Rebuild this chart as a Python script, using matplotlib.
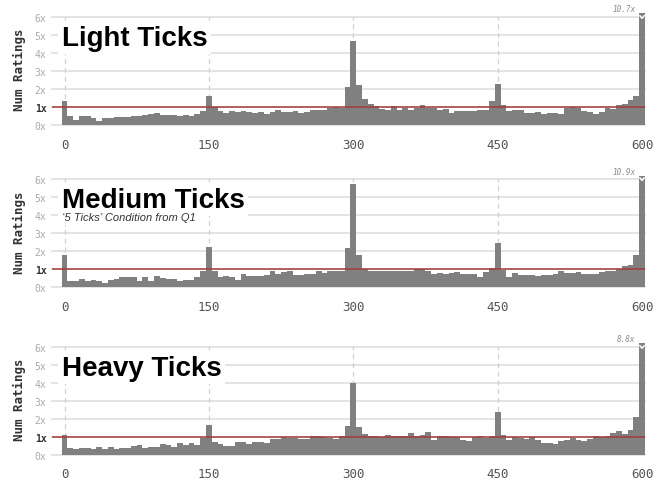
import numpy as np
import matplotlib.pyplot as plt

# bins are 6 seconds wide, centred on 0, 6, ..., 600
bins = np.arange(0, 601, 6)

light = [1.35, 0.48, 0.30, 0.52, 0.52, 0.37, 0.25, 0.41, 0.41, 0.44,
         0.44, 0.44, 0.52, 0.48, 0.56, 0.61, 0.67, 0.56, 0.56, 0.56,
         0.52, 0.56, 0.52, 0.59, 0.78, 1.62, 0.98, 0.78, 0.67, 0.78,
         0.72, 0.78, 0.72, 0.67, 0.72, 0.61, 0.72, 0.83, 0.72, 0.72,
         0.78, 0.67, 0.72, 0.83, 0.83, 0.83, 0.94, 1.00, 0.94, 2.11,
         4.67, 2.22, 1.44, 1.17, 1.04, 0.89, 0.83, 1.06, 0.83, 0.94,
         0.83, 0.94, 1.11, 0.94, 0.94, 0.83, 0.89, 0.67, 0.78, 0.78,
         0.78, 0.78, 0.83, 0.83, 1.33, 2.28, 1.11, 0.78, 0.83, 0.83,
         0.67, 0.67, 0.72, 0.61, 0.67, 0.67, 0.61, 0.94, 1.00, 0.94,
         0.78, 0.72, 0.61, 0.72, 0.94, 0.89, 1.11, 1.17, 1.39, 1.61,
         10.7]

medium = [1.78, 0.36, 0.36, 0.47, 0.36, 0.41, 0.36, 0.24, 0.41, 0.47,
          0.54, 0.54, 0.58, 0.36, 0.54, 0.36, 0.60, 0.50, 0.43, 0.47,
          0.36, 0.41, 0.41, 0.54, 0.88, 2.22, 0.88, 0.54, 0.60, 0.54,
          0.41, 0.71, 0.60, 0.60, 0.60, 0.65, 0.88, 0.75, 0.82, 0.92,
          0.65, 0.65, 0.75, 0.75, 0.88, 0.79, 0.92, 0.92, 0.92, 2.15,
          5.74, 1.76, 1.03, 0.92, 0.92, 0.92, 0.92, 0.92, 0.88, 0.92,
          0.88, 1.03, 1.03, 0.92, 0.75, 0.80, 0.75, 0.80, 0.86, 0.75,
          0.75, 0.75, 0.58, 0.86, 1.08, 2.43, 0.93, 0.58, 0.80, 0.69,
          0.69, 0.69, 0.64, 0.69, 0.69, 0.75, 0.92, 0.80, 0.80, 0.86,
          0.75, 0.75, 0.75, 0.86, 0.92, 0.92, 1.03, 1.20, 1.25, 1.76,
          10.9]

heavy = [1.12, 0.37, 0.32, 0.37, 0.37, 0.32, 0.43, 0.32, 0.43, 0.32,
         0.37, 0.37, 0.48, 0.56, 0.37, 0.43, 0.43, 0.60, 0.56, 0.43,
         0.65, 0.56, 0.65, 0.56, 0.97, 1.68, 0.71, 0.60, 0.48, 0.48,
         0.71, 0.71, 0.60, 0.71, 0.71, 0.65, 0.88, 0.88, 0.99, 0.93,
         0.93, 0.88, 0.88, 1.04, 1.04, 0.99, 0.93, 0.88, 1.04, 1.60,
         4.00, 1.55, 1.15, 1.04, 1.04, 0.99, 1.10, 1.04, 1.04, 1.04,
         1.21, 1.04, 1.10, 1.26, 0.82, 1.04, 1.04, 0.99, 0.99, 0.82,
         0.76, 0.99, 1.04, 0.93, 1.04, 2.38, 1.12, 0.82, 0.99, 0.93,
         0.88, 0.99, 0.82, 0.65, 0.65, 0.60, 0.76, 0.82, 0.93, 0.82,
         0.76, 0.88, 1.04, 0.99, 1.04, 1.21, 1.32, 1.15, 1.38, 2.10,
         8.8]

series = [light, medium, heavy]
titles = ["Light Ticks", "Medium Ticks", "Heavy Ticks"]
subtitles = ["", "\u20185 Ticks\u2019 Condition from Q1", ""]
xticks = [0, 150, 300, 450, 600]
yticks = [0, 1, 2, 3, 4, 5, 6]
ytick_labels = ["0x", "1x", "2x", "3x", "4x", "5x", "6x"]

YTOP = 6.2
mono = "DejaVu Sans Mono"
sans = "Liberation Sans"

fig = plt.figure(figsize=(6.64, 4.81), dpi=100)
bottoms = [0.738, 0.401, 0.052]

for vals, title, sub, bot in zip(series, titles, subtitles, bottoms):
    ax = fig.add_axes([52 / 664, bot, 0.893, 0.232])
    ax.set_xlim(-13, 603)
    ax.set_ylim(0, YTOP)

    # grid
    for yv in yticks:
        ax.axhline(yv, color="#e2e2e2", lw=1.3, zorder=0, clip_on=False)
    for xv in xticks[:-1]:
        ax.plot([xv, xv], [0, 6], color="#d0d0d0", lw=0.9, ls=(0, (4, 3)), zorder=0)

    ax.bar(bins, vals, width=6, color="#808080", linewidth=0, zorder=2)
    ax.axhline(1, color="#a8393a", lw=1.1, zorder=3)

    # overflow marker on the last bin
    last = vals[-1]
    if last > YTOP:
        ax.plot([597.3, 600, 602.7], [6.1, 5.93, 6.1], color="white", lw=1.1,
                zorder=4, solid_capstyle="butt")
        ax.text(593, 6.45, "%.1fx" % last, ha="right", va="center",
                fontsize=5.5, family=mono, style="italic", color="#8a8a8a",
                clip_on=False)

    ax.text(-3, 4.45, title, fontsize=20, fontweight="bold", family=sans,
            ha="left", va="baseline", zorder=5,
            bbox=dict(boxstyle="square,pad=0.12", fc="white", ec="none"))
    if sub:
        ax.text(-3, 3.9, sub, fontsize=8, style="italic", family=sans,
                color="#333333", ha="left", va="center", zorder=6,
                bbox=dict(boxstyle="square,pad=0.25", fc="white", ec="none"))

    for s in ax.spines.values():
        s.set_visible(False)

    ax.set_xticks(xticks)
    ax.set_xticklabels([str(x) for x in xticks], family=mono, fontsize=9,
                       color="#555555")
    ax.set_yticks(yticks)
    ax.set_yticklabels(ytick_labels, family=mono, fontsize=7, color="#aaaaaa")
    ax.get_yticklabels()[1].set_color("#333333")
    ax.get_yticklabels()[1].set_fontweight("bold")
    ax.tick_params(axis="x", length=0, pad=9)
    ax.tick_params(axis="y", length=0, pad=4)
    ax.set_ylabel("Num Ratings", family=mono, fontweight="bold", fontsize=9,
                  color="#333333", labelpad=6)

fig.savefig("out.png", dpi=100)
